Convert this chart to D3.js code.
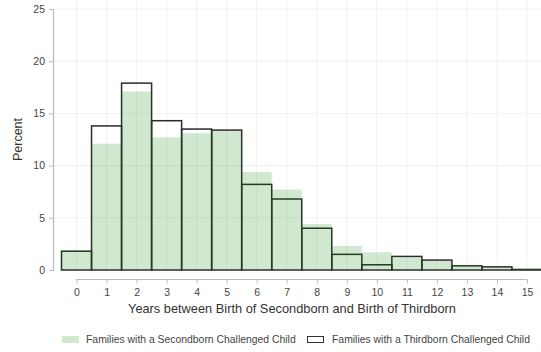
<!DOCTYPE html>
<html>
<head>
<meta charset="utf-8">
<script src="https://cdn.jsdelivr.net/npm/d3@7"></script>
<style>
  html, body { margin: 0; padding: 0; background: #fff; overflow: hidden; }
  svg { display: block; font-family: "Liberation Sans", Arial, sans-serif; }
</style>
</head>
<body>
<svg id="chart" width="541" height="352"></svg>
<script>
// Years between birth of second- and third-born child
const years = [0, 1, 2, 3, 4, 5, 6, 7, 8, 9, 10, 11, 12, 13, 14, 15];
// Percent of families, secondborn challenged child (filled bars)
const secondborn = [1.9, 12.1, 17.1, 12.7, 13.1, 13.3, 9.4, 7.7, 4.4, 2.3, 1.7, 1.2, 0.85, 0.45, 0.3, 0.1];
// Percent of families, thirdborn challenged child (outlined bars)
const thirdborn = [1.8, 13.8, 17.9, 14.3, 13.5, 13.4, 8.2, 6.8, 4.0, 1.5, 0.5, 1.3, 0.95, 0.4, 0.3, 0.05];
const yTicks = [0, 5, 10, 15, 20, 25];
const legendLabels = ["Families with a Secondborn Challenged Child", "Families with a Thirdborn Challenged Child"];
const xTitle = "Years between Birth of Secondborn and Birth of Thirdborn";
const yTitle = "Percent";

const svg = d3.select("#chart");

const x = d3.scaleLinear().domain([-0.5, 15.5]).range([61.5, 542]);
const y = d3.scaleLinear().domain([0, 25]).range([270, 9]);

// Grid
const grid = svg.append("g");
grid.selectAll("line.v").data(years).join("line")
  .attr("x1", d => x(d)).attr("x2", d => x(d))
  .attr("y1", 0).attr("y2", y(0))
  .attr("stroke", "#f1f1f1").attr("stroke-width", 1);
grid.selectAll("line.h").data(yTicks.filter(d => d > 0)).join("line")
  .attr("x1", 54).attr("x2", 541)
  .attr("y1", d => y(d)).attr("y2", d => y(d))
  .attr("stroke", "#f1f1f1").attr("stroke-width", 1);

const bw = x(1) - x(0);

// Outlined bars (thirdborn)
svg.append("g").selectAll("rect").data(years).join("rect")
  .attr("x", d => x(d) - bw / 2)
  .attr("width", bw)
  .attr("y", (d, i) => y(thirdborn[i]))
  .attr("height", (d, i) => y(0) - y(thirdborn[i]))
  .attr("fill", "none")
  .attr("stroke", "#2b2b2b")
  .attr("stroke-width", 1.5);

// Filled translucent bars (secondborn)
svg.append("g").selectAll("rect").data(years).join("rect")
  .attr("x", d => x(d) - bw / 2)
  .attr("width", bw)
  .attr("y", (d, i) => y(secondborn[i]))
  .attr("height", (d, i) => y(0) - y(secondborn[i]))
  .attr("fill", "rgb(0,135,0)")
  .attr("fill-opacity", 0.19);

// Y axis
const yAxis = d3.axisLeft(y).tickValues(yTicks).tickSize(4).tickPadding(4);
const gy = svg.append("g").attr("transform", "translate(53,0)").call(yAxis);
gy.select(".domain").attr("stroke", "#bbb").attr("stroke-width", 1.2);
gy.selectAll(".tick line").attr("stroke", "#bbb");
gy.selectAll(".tick text").attr("fill", "#444").style("font-size", "10.5px");

// X axis, offset below the plot region
const xAxis = d3.axisBottom(x).tickValues(years).tickSize(4).tickPadding(5).tickSizeOuter(0);
const gx = svg.append("g").attr("transform", "translate(0,279.5)").call(xAxis);
gx.select(".domain").attr("d", `M${x(0)},0H${x(15)}`).attr("stroke", "#bbb").attr("stroke-width", 1.2);
gx.selectAll(".tick line").attr("stroke", "#bbb");
gx.selectAll(".tick text").attr("fill", "#444").style("font-size", "10.5px");

// Axis titles
svg.append("text")
  .attr("x", 292).attr("y", 313)
  .attr("text-anchor", "middle")
  .attr("fill", "#333")
  .style("font-size", "12.8px")
  .text(xTitle);

svg.append("text")
  .attr("transform", `translate(22,${(y(0) + y(25)) / 2}) rotate(-90)`)
  .attr("text-anchor", "middle")
  .attr("fill", "#333")
  .style("font-size", "12.5px")
  .text(yTitle);

// Legend
const leg = svg.append("g");
leg.append("rect").attr("x", 62).attr("y", 336).attr("width", 17).attr("height", 7)
  .attr("fill", "rgb(0,135,0)").attr("fill-opacity", 0.19);
leg.append("text").attr("x", 86).attr("y", 343).attr("fill", "#444")
  .style("font-size", "10.4px").text(legendLabels[0]);
leg.append("rect").attr("x", 307.5).attr("y", 336.5).attr("width", 16).attr("height", 6)
  .attr("fill", "none").attr("stroke", "#333").attr("stroke-width", 1);
leg.append("text").attr("x", 332).attr("y", 343).attr("fill", "#444")
  .style("font-size", "10.4px").text(legendLabels[1]);
</script>
</body>
</html>
